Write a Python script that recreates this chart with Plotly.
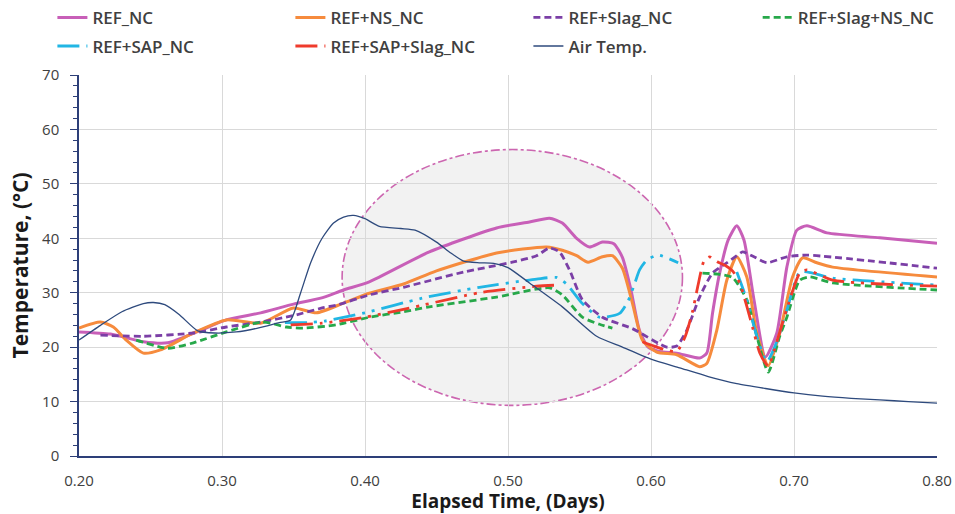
import plotly.graph_objects as go

# ---- data: elapsed time (days) vs. temperature (deg C) ----
t_ref = [0.200, 0.222, 0.245, 0.262, 0.285, 0.303, 0.327, 0.350, 0.369, 0.385, 0.403,
         0.445, 0.492, 0.515, 0.529, 0.538, 0.548, 0.557, 0.566, 0.574, 0.580, 0.586,
         0.592, 0.598, 0.606, 0.618, 0.634, 0.639, 0.643, 0.648, 0.654, 0.660, 0.665,
         0.672, 0.680, 0.688, 0.695, 0.702, 0.709, 0.723, 0.760, 0.800]
temp_ref = [22.8, 22.4, 21.0, 20.8, 23.1, 25.0, 26.3, 27.9, 29.0, 30.5, 32.0,
            37.5, 41.9, 43.0, 43.7, 42.8, 40.0, 38.4, 39.3, 39.0, 36.5, 30.5,
            23.0, 20.0, 19.2, 18.9, 18.0, 18.9, 26.2, 33.6, 39.7, 42.3, 39.7,
            28.7, 18.2, 22.6, 34.7, 41.5, 42.3, 41.0, 40.1, 39.1]

t_ns = [0.200, 0.215, 0.224, 0.233, 0.245, 0.257, 0.280, 0.303, 0.327, 0.350, 0.366,
        0.385, 0.403, 0.427, 0.450, 0.492, 0.527, 0.538, 0.548, 0.556, 0.566, 0.573,
        0.580, 0.587, 0.594, 0.604, 0.618, 0.634, 0.639, 0.646, 0.653, 0.660, 0.667,
        0.674, 0.682, 0.690, 0.699, 0.706, 0.716, 0.727, 0.800]
temp_ns = [23.5, 24.6, 23.7, 21.3, 18.9, 19.5, 22.6, 25.0, 24.4, 27.2, 26.3,
           28.1, 29.9, 31.6, 34.0, 37.3, 38.4, 37.8, 36.8, 35.6, 36.6, 36.8,
           34.5, 28.1, 21.3, 19.1, 18.6, 16.4, 17.0, 23.1, 32.3, 36.6, 32.9,
           22.6, 16.6, 22.6, 32.9, 36.4, 35.5, 34.7, 32.9]

t_slag = [0.215, 0.245, 0.280, 0.303, 0.327, 0.350, 0.370, 0.380, 0.403, 0.427, 0.469,
          0.503, 0.520, 0.529, 0.536, 0.543, 0.552, 0.566, 0.587, 0.611, 0.618, 0.625,
          0.634, 0.643, 0.653, 0.660, 0.664, 0.672, 0.681, 0.695, 0.709, 0.800]
temp_slag = [22.2, 22.0, 22.6, 23.7, 24.6, 25.8, 27.2, 27.7, 29.6, 31.0, 33.8,
             35.6, 36.8, 38.2, 37.5, 34.2, 28.7, 25.5, 23.4, 20.0, 20.2, 23.1,
             29.2, 33.6, 35.5, 36.8, 37.5, 36.6, 35.5, 36.6, 36.9, 34.5]

t_slag_ns = [0.240, 0.262, 0.280, 0.303, 0.327, 0.334, 0.345, 0.357, 0.380, 0.403, 0.427,
             0.445, 0.492, 0.529, 0.538, 0.552, 0.564, 0.573, 0.600,
             0.636, 0.647, 0.657, 0.667, 0.674, 0.682, 0.690, 0.695, 0.704, 0.711,
             0.727, 0.800]
temp_slag_ns = [21.3, 19.8, 20.8, 22.8, 24.6, 24.4, 23.7, 23.5, 24.1, 25.5, 26.5,
                27.4, 29.2, 30.9, 29.6, 25.5, 24.2, 23.5, None,
                33.6, 33.4, 32.8, 28.7, 22.0, 15.4, 22.0, 25.5, 32.3, 32.9,
                31.8, 30.5]

t_sap = [0.344, 0.360, 0.372, 0.400, 0.440, 0.480, 0.520, 0.534, 0.541, 0.552, 0.564,
         0.578, 0.584, 0.589, 0.592, 0.597, 0.605, 0.619, 0.640,
         0.660, 0.667, 0.674, 0.681, 0.688, 0.695, 0.704, 0.713, 0.727, 0.800]
temp_sap = [24.5, 24.5, 24.8, 26.3, 29.0, 31.0, 32.5, 32.8, 31.6, 28.0, 25.5,
            26.2, 28.5, 32.0, 34.2, 36.0, 36.9, 35.5, None,
            33.8, 28.7, 22.0, 17.3, 21.0, 26.8, 33.8, 33.6, 32.7, 31.4]

t_sap_slag = [0.348, 0.370, 0.400, 0.440, 0.480, 0.520, 0.535, 0.560,
              0.594, 0.601, 0.610, 0.618, 0.624, 0.629, 0.633, 0.637, 0.641, 0.647,
              0.652, 0.657, 0.662, 0.671, 0.676, 0.682, 0.688, 0.695, 0.704, 0.709,
              0.727, 0.800]
temp_sap_slag = [24.1, 24.4, 25.5, 27.7, 30.0, 31.2, 31.4, None,
                 21.0, 20.3, 19.5, 19.2, 22.0, 26.5, 31.5, 35.8, 36.6, 35.6,
                 35.0, 34.0, 31.8, 23.7, 19.0, 16.5, 21.0, 27.0, 33.6, 34.2,
                 32.3, 31.2]

t_air = [0.200, 0.215, 0.230, 0.245, 0.252, 0.260, 0.270, 0.283, 0.295, 0.310, 0.325,
         0.340, 0.348, 0.355, 0.362, 0.370, 0.378, 0.385, 0.392, 0.400, 0.410, 0.425,
         0.435, 0.450, 0.460, 0.469, 0.480, 0.490, 0.500, 0.515, 0.538, 0.562, 0.580,
         0.600, 0.620, 0.640, 0.660, 0.680, 0.700, 0.720, 0.740, 0.760, 0.780, 0.800]
temp_air = [21.3, 24.0, 26.5, 28.0, 28.2, 27.8, 26.0, 23.0, 22.6, 22.8, 23.5,
            24.5, 25.0, 30.0, 35.5, 40.0, 42.8, 43.9, 44.2, 43.6, 42.2, 41.8,
            41.5, 39.3, 37.3, 35.8, 35.5, 35.4, 34.6, 31.8, 27.4, 22.0, 20.0,
            17.8, 16.2, 14.6, 13.3, 12.4, 11.6, 11.0, 10.6, 10.3, 10.0, 9.7]

# highlighted region (ellipse in data units)
zone_t = [0.384, 0.622]
zone_temp = [9.3, 56.3]

x_ticks = [0.2, 0.3, 0.4, 0.5, 0.6, 0.7, 0.8]

FONT = "Open Sans, Liberation Sans, sans-serif"
NAVY = "#2d3f78"

dd = "22px,7px,3px,7px,3px,7px"   # long dash + two dots

# (name, x, y, colour, width, dash, legend box)
series = [
    ("REF_NC", t_ref, temp_ref, "#c85fb8", 3.0, "solid", "legend"),
    ("REF+NS_NC", t_ns, temp_ns, "#f68b3d", 3.0, "solid", "legend"),
    ("REF+Slag_NC", t_slag, temp_slag, "#7b3fa6", 2.8, "7px,4px", "legend"),
    ("REF+Slag+NS_NC", t_slag_ns, temp_slag_ns, "#27a84a", 2.8, "7px,4px", "legend3"),
    ("REF+SAP_NC", t_sap, temp_sap, "#21b6e4", 2.8, dd, "legend2"),
    ("REF+SAP+Slag_NC", t_sap_slag, temp_sap_slag, "#ef3b2c", 2.8, dd, "legend2"),
    ("Air Temp.", t_air, temp_air, "#2e4a7d", 1.3, "solid", "legend2"),
]

fig = go.Figure()
for name, xs, ys, col, w, dash, leg in series:
    fig.add_trace(go.Scatter(
        x=xs, y=ys, name=name, mode="lines",
        line=dict(color=col, width=w, dash=dash, shape="spline", smoothing=0.6),
        connectgaps=False, legend=leg,
    ))

fig.add_shape(
    type="circle", xref="x", yref="y",
    x0=zone_t[0], x1=zone_t[1], y0=zone_temp[0], y1=zone_temp[1],
    fillcolor="#f2f2f2", line=dict(color="#cc66b0", width=1.6, dash="dashdot"),
    layer="below",
)

leg_font = dict(family=FONT, size=17, color="#404040", weight=600)
leg_common = dict(
    orientation="h", xanchor="left", yanchor="middle",
    entrywidthmode="pixels", font=leg_font,
    bgcolor="rgba(0,0,0,0)", itemclick=False,
)

fig.update_layout(
    width=955, height=514,
    margin=dict(l=79, r=18, t=75, b=58, autoexpand=False),
    paper_bgcolor="white", plot_bgcolor="white",
    font=dict(family=FONT, color="#404040"),
    legend=dict(x=-0.031, y=1.15, entrywidth=193, **leg_common),
    legend3=dict(x=0.791, y=1.15, entrywidth=150, **leg_common),
    legend2=dict(x=-0.031, y=1.075, entrywidth=193, **leg_common),
    xaxis=dict(
        range=[0.2, 0.8], tickvals=x_ticks, tickformat=".2f",
        showgrid=True, gridcolor="#d9d9d9", gridwidth=1,
        showline=True, linecolor=NAVY, linewidth=1.5,
        ticks="", zeroline=False, automargin=False,
        ticklabelstandoff=10,
        tickfont=dict(size=15, color="#404040"),
        title=dict(text="<b>Elapsed Time, (Days)</b>",
                   font=dict(size=19, color="#1a1a1a"), standoff=8),
    ),
    yaxis=dict(
        range=[0, 70], dtick=10,
        showgrid=True, gridcolor="#d9d9d9", gridwidth=1,
        showline=True, linecolor=NAVY, linewidth=1.5,
        ticks="outside", ticklen=7, tickcolor=NAVY, tickwidth=1.3,
        minor=dict(dtick=2, ticks="outside", ticklen=4, tickcolor=NAVY, showgrid=False),
        zeroline=False, automargin=False,
        ticklabelstandoff=8,
        tickfont=dict(size=15, color="#404040"),
        title=dict(text="<b>Temperature, (°C)</b>",
                   font=dict(size=21, color="#1a1a1a"), standoff=8),
    ),
)

fig.write_html("out.html")
